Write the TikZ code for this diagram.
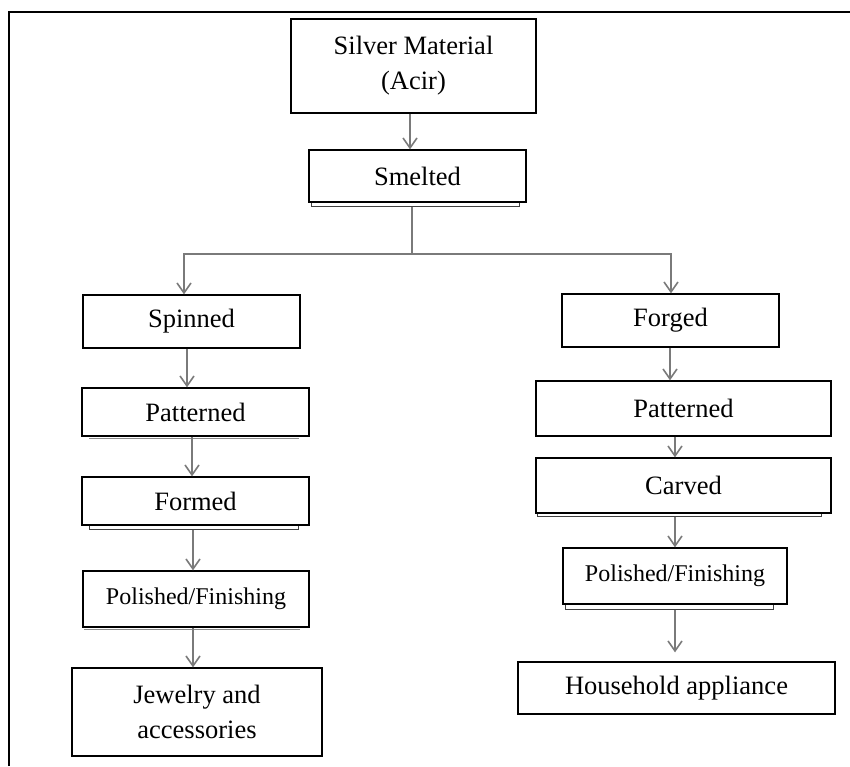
\documentclass[tikz,border=0pt]{standalone}
\usepackage{fontspec}
\setmainfont{Liberation Serif}
\usetikzlibrary{arrows.meta}
\definecolor{arrgray}{HTML}{7A7A7A}
\tikzset{
  box/.style={draw=black, line width=1.3pt, rectangle, inner sep=0pt, align=center,
    font=\fontsize{26.5}{35}\selectfont},
  smallbox/.style={box, font=\fontsize{24}{30}\selectfont},
  arr/.style={draw=arrgray, line width=2pt, -{Straight Barb[length=10pt,width=14pt,line width=1.6pt]}},
  plain/.style={draw=arrgray, line width=2pt},
  shad/.style={draw=black!75, line width=1.2pt}
}
\begin{document}
\begin{tikzpicture}[x=1pt,y=-1pt]
\useasboundingbox (0,0) rectangle (850,766);
\fill[white] (0,0) rectangle (850,766);
% frame
\draw[line width=1.5pt] (9,766) -- (9,12) -- (850,12);

% nodes
\node[box, minimum width=245pt, minimum height=94pt] (silver) at (413.5,66) {Silver Material\\(Acir)};
\node[box, minimum width=217pt, minimum height=52pt] (smelted) at (417.5,176) {Smelted};
\node[box, minimum width=217pt, minimum height=53pt] (spinned) at (191.5,321.5) {Spinned};
\node[box, minimum width=227pt, minimum height=48pt] (patL) at (195.5,412) {Patterned};
\node[box, minimum width=227pt, minimum height=48pt] (formed) at (195.5,501) {Formed};
\node[smallbox, minimum width=226pt, minimum height=56pt] (polL) at (196,599) {Polished/Finishing};
\node[box, minimum width=250pt, minimum height=88pt] (jewel) at (197,712) {Jewelry and\\accessories};
\node[box, minimum width=217pt, minimum height=53pt] (forged) at (670.5,320.5) {Forged};
\node[box, minimum width=295pt, minimum height=55pt] (patR) at (683.5,408.5) {Patterned};
\node[box, minimum width=295pt, minimum height=55pt] (carved) at (683.5,485.5) {Carved};
\node[smallbox, minimum width=224pt, minimum height=56pt] (polR) at (675,576) {Polished/Finishing};
\node[box, minimum width=317pt, minimum height=52pt] (house) at (676.5,688) {Household appliance};

% bottom shadows
\draw[shad] ([xshift=3pt]smelted.south west) -- ([xshift=3pt,yshift=-4pt]smelted.south west) -- ([xshift=-7pt,yshift=-4pt]smelted.south east) -- ([xshift=-7pt]smelted.south east);
\draw[shad] ([xshift=8pt]formed.south west) -- ([xshift=8pt,yshift=-4pt]formed.south west) -- ([xshift=-11pt,yshift=-4pt]formed.south east) -- ([xshift=-11pt]formed.south east);
\draw[shad] ([xshift=2pt]carved.south west) -- ([xshift=2pt,yshift=-3pt]carved.south west) -- ([xshift=-10pt,yshift=-3pt]carved.south east) -- ([xshift=-10pt]carved.south east);
\draw[shad] ([xshift=3pt]polR.south west) -- ([xshift=3pt,yshift=-5pt]polR.south west) -- ([xshift=-14pt,yshift=-5pt]polR.south east) -- ([xshift=-14pt]polR.south east);
\draw[shad, draw=black!45, line width=0.8pt] ([xshift=8pt,yshift=-2pt]patL.south west) -- ([xshift=-11pt,yshift=-2pt]patL.south east);
\draw[shad, draw=black!45, line width=0.8pt] ([xshift=2pt,yshift=-2pt]polL.south west) -- ([xshift=-10pt,yshift=-2pt]polL.south east);

% connector coordinates
\coordinate (c1) at (410,0);
\coordinate (j) at (412,254);
\coordinate (bl) at (184,254);
\coordinate (br) at (671,254);
\coordinate (c2) at (187,0);
\coordinate (c3) at (192,0);
\coordinate (c4) at (193,0);
\coordinate (c5) at (670,0);
\coordinate (c6) at (675,0);

% connectors
\draw[arr] (silver.south -| c1) -- (smelted.north -| c1);
\draw[plain] ([yshift=-4pt]smelted.south -| j) -- (j);
\draw[arr] (j) -- (bl) -- (spinned.north -| bl);
\draw[arr] (j) -- (br) -- (forged.north -| br);
\draw[arr] (spinned.south -| c2) -- (patL.north -| c2);
\draw[arr] (patL.south -| c3) -- (formed.north -| c3);
\draw[arr] ([yshift=-4pt]formed.south -| c4) -- (polL.north -| c4);
\draw[arr] (polL.south -| c4) -- (jewel.north -| c4);
\draw[arr] (forged.south -| c5) -- (patR.north -| c5);
\draw[arr] (patR.south -| c6) -- (carved.north -| c6);
\draw[arr] ([yshift=-3pt]carved.south -| c6) -- (polR.north -| c6);
\draw[arr, shorten >=9pt] ([yshift=-5pt]polR.south -| c6) -- (house.north -| c6);
\end{tikzpicture}
\end{document}
